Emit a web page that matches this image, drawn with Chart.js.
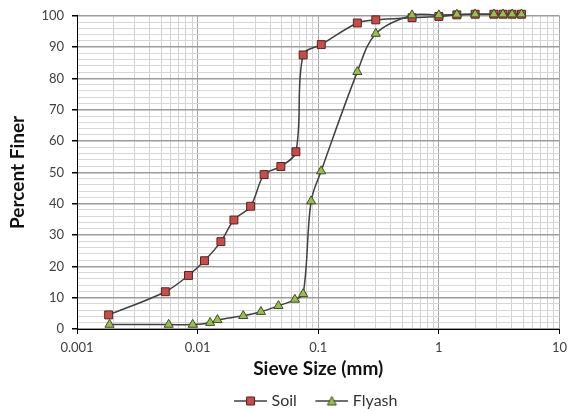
<!DOCTYPE html>
<html><head><meta charset="utf-8">
<script src="https://cdn.jsdelivr.net/npm/chart.js@4"></script>
<style>html,body{margin:0;padding:0;background:#fff}#wrap{width:573px;height:412px}</style>
</head><body><div id="wrap"><canvas id="c" width="573" height="412"></canvas></div>
<script>
// ---- data ----
const soilSize   = [0.00183, 0.0054, 0.0084, 0.0114, 0.0156, 0.020, 0.0275, 0.0356, 0.049, 0.0653, 0.075, 0.106, 0.211, 0.30, 0.60, 1.0, 1.41, 2.0, 2.86, 3.4, 4.05, 4.84];
const soilFiner  = [4.5, 11.9, 17.1, 21.8, 27.9, 34.8, 39.2, 49.3, 51.9, 56.6, 87.5, 90.8, 97.7, 98.7, 99.4, 99.8, 100.3, 100.5, 100.5, 100.5, 100.5, 100.5];
const flyashSize = [0.00186, 0.00575, 0.0091, 0.0127, 0.0146, 0.0239, 0.0335, 0.0468, 0.064, 0.075, 0.0873, 0.1057, 0.211, 0.30, 0.60, 1.0, 1.41, 2.0, 2.86, 3.4, 4.05, 4.84];
const flyashFiner= [1.4, 1.4, 1.4, 2.0, 2.9, 4.2, 5.5, 7.4, 9.4, 11.2, 40.8, 50.4, 82.1, 94.3, 100.2, 100.2, 100.4, 100.5, 100.5, 100.5, 100.5, 100.5];
const seriesNames = ['Soil', 'Flyash'];
const xTickValues = [0.001, 0.01, 0.1, 1, 10];
const xTickLabels = ['0.001', '0.01', '0.1', '1', '10'];
const yTickValues = [0, 10, 20, 30, 40, 50, 60, 70, 80, 90, 100];
const yTickLabels = ['0', '10', '20', '30', '40', '50', '60', '70', '80', '90', '100'];
const xTitle = 'Sieve Size (mm)';
const yTitle = 'Percent Finer';

Chart.defaults.font.family = 'Lato, "Open Sans", sans-serif';

const LINE = '#404040';
const SOIL_FILL = '#C0504D', SOIL_EDGE = '#5E1F1D';
const FLY_FILL = '#9BBB59', FLY_EDGE = '#3F4F1F';

// legend symbol: blank lead-in (item spacing) + line with marker
function icon(shape, fill, edge) {
  const c = document.createElement('canvas');
  c.width = 51; c.height = 12;
  const g = c.getContext('2d');
  const x0 = 18, x1 = 51, cx = (x0 + x1) / 2;
  g.strokeStyle = LINE; g.lineWidth = 1.5;
  g.beginPath(); g.moveTo(x0, 6); g.lineTo(x1, 6); g.stroke();
  g.fillStyle = fill; g.strokeStyle = edge; g.lineWidth = 1;
  g.beginPath();
  if (shape === 'rect') { g.rect(cx - 4, 2, 8, 8); }
  else { g.moveTo(cx, 1.5); g.lineTo(cx + 4.5, 10); g.lineTo(cx - 4.5, 10); g.closePath(); }
  g.fill(); g.stroke();
  return c;
}
const icons = [icon('rect', SOIL_FILL, SOIL_EDGE), icon('tri', FLY_FILL, FLY_EDGE)];

const isDecade = v => Math.abs(Math.log10(v) - Math.round(Math.log10(v))) < 1e-9;

const fixPlugin = {
  id: 'fixLayout',
  beforeLayout(chart) {
    const leg = chart.legend;
    if (leg && !leg._patched) {
      const fit = leg.fit.bind(leg);
      leg.fit = function () { fit(); this.height = 23; };
      leg._patched = true;
    }
  },
  afterLayout(chart) {
    if (chart.legend) { chart.legend.left += 26.5; chart.legend.right += 26.5; }
  }
};

new Chart(document.getElementById('c'), {
  type: 'line',
  data: {
    datasets: [
      {
        label: seriesNames[0],
        data: soilSize.map((x, i) => ({x, y: soilFiner[i]})),
        borderColor: LINE, borderWidth: 1.5, tension: 0.35,
        pointStyle: 'rect', pointRadius: 5.6, pointHoverRadius: 5.6,
        pointBackgroundColor: SOIL_FILL, pointBorderColor: SOIL_EDGE, pointBorderWidth: 1,
        clip: false, order: 2
      },
      {
        label: seriesNames[1],
        data: flyashSize.map((x, i) => ({x, y: flyashFiner[i]})),
        borderColor: LINE, borderWidth: 1.5, tension: 0.35,
        pointStyle: 'triangle', pointRadius: 5.3, pointHoverRadius: 5.3,
        pointBackgroundColor: FLY_FILL, pointBorderColor: FLY_EDGE, pointBorderWidth: 1,
        clip: false, order: 1
      }
    ]
  },
  options: {
    responsive: false, animation: false, devicePixelRatio: 1,
    layout: { padding: { left: 0, right: 9, top: 12, bottom: 0 } },
    plugins: {
      tooltip: { enabled: false },
      legend: {
        position: 'bottom',
        labels: {
          usePointStyle: true, pointStyleWidth: 44, padding: 4,
          color: '#333', font: { size: 16 },
          generateLabels: chart => chart.data.datasets.map((ds, i) => ({
            text: ds.label, pointStyle: icons[i], rotation: 0,
            fillStyle: 'transparent', strokeStyle: 'transparent', lineWidth: 0,
            hidden: false, datasetIndex: i, fontColor: '#333'
          }))
        }
      }
    },
    scales: {
      x: {
        type: 'logarithmic', min: 0.001, max: 10,
        afterBuildTicks: s => {
          const t = [];
          for (let e = -3; e <= 1; e++) {
            for (let m = 1; m <= 9; m++) {
              const v = parseFloat((m * Math.pow(10, e)).toPrecision(12));
              if (v <= 10) t.push({ value: v, major: m === 1 });
            }
          }
          s.ticks = t;
        },
        afterFit: s => { s.height = 60; },
        ticks: {
          autoSkip: false, maxRotation: 0, minRotation: 0, padding: 6,
          color: '#404040', font: { size: 13 },
          callback: v => { const i = xTickValues.findIndex(t => Math.abs(t - v) / t < 1e-9); return i >= 0 ? xTickLabels[i] : ''; }
        },
        grid: {
          color: c => (c.tick && isDecade(c.tick.value)) ? '#A6A6A6' : '#D3D3D3',
          lineWidth: 1, tickLength: 5,
          tickColor: c => (c.tick && isDecade(c.tick.value)) ? '#000' : 'rgba(0,0,0,0)'
        },
        border: { display: true, color: '#000', width: 1 },
        title: { display: true, text: xTitle, color: '#111', font: { size: 19, weight: 'bold' }, padding: { top: 0, bottom: 9 } }
      },
      y: {
        type: 'linear', min: 0, max: 100,
        afterBuildTicks: s => {
          const t = [];
          for (let v = 0; v <= 100; v += 2) t.push({ value: v });
          s.ticks = t;
        },
        afterFit: s => { s.width = 77; },
        ticks: {
          autoSkip: false, padding: 8, color: '#404040', font: { size: 13 },
          callback: v => { const i = yTickValues.indexOf(v); return i >= 0 ? yTickLabels[i] : ''; }
        },
        grid: {
          color: c => (c.tick && c.tick.value % 10 === 0) ? '#9C9C9C' : '#D6D6D6',
          lineWidth: c => (c.tick && c.tick.value % 10 === 0) ? 1.5 : 1,
          tickLength: 5,
          tickColor: c => (c.tick && c.tick.value % 10 === 0) ? '#000' : 'rgba(0,0,0,0)'
        },
        border: { display: true, color: '#000', width: 1 },
        title: { display: true, text: yTitle, color: '#111', font: { size: 19, weight: 'bold' }, padding: { top: 6, bottom: 0 } }
      }
    }
  },
  plugins: [fixPlugin]
});
</script>
</body></html>
